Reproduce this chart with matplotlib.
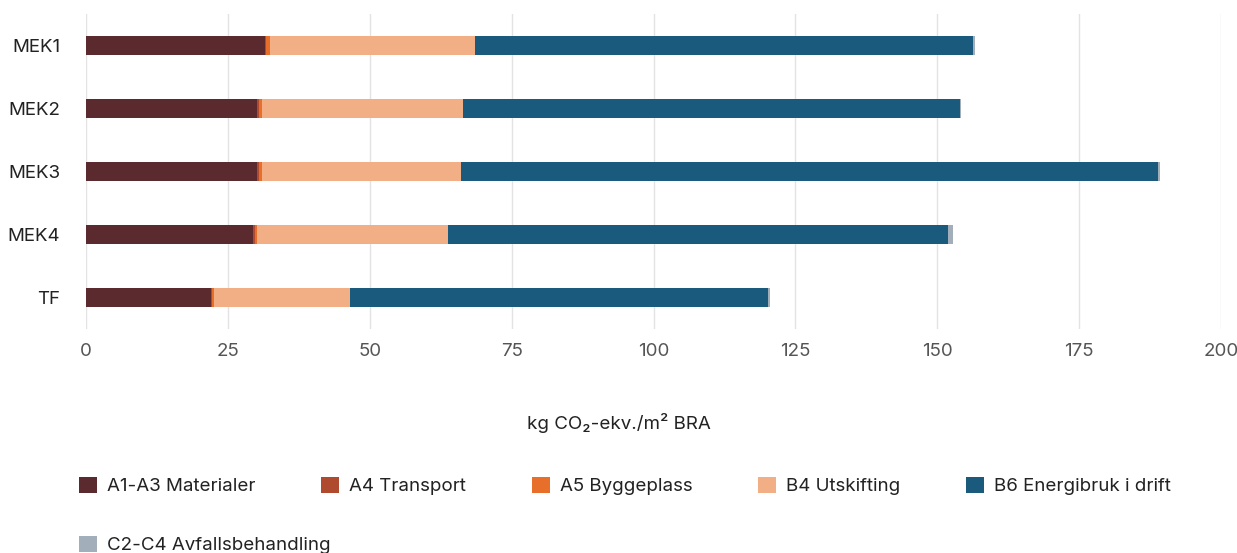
import matplotlib
matplotlib.use("Agg")
import matplotlib.pyplot as plt
import numpy as np

plt.rcParams['font.family'] = ['Inter', 'DejaVu Sans']

categories = ["MEK1", "MEK2", "MEK3", "MEK4", "TF"]
series_names = ["A1-A3 Materialer", "A4 Transport", "A5 Byggeplass",
                "B4 Utskifting", "B6 Energibruk i drift", "C2-C4 Avfallsbehandling"]
a1a3 = [31.6, 30.2, 30.2, 29.5, 22.0]
a4 = [0.2, 0.35, 0.35, 0.35, 0.2]
a5 = [0.6, 0.5, 0.4, 0.35, 0.4]
b4 = [36.2, 35.3, 35.2, 33.6, 23.9]
b6 = [87.7, 87.7, 122.8, 88.1, 73.6]
c2c4 = [0.4, 0.2, 0.3, 0.8, 0.4]
colors = ["#5a2a2e", "#b04a2e", "#e86f2a", "#f2ae85", "#1a5a7c", "#a3aebb"]
xticks = [0, 25, 50, 75, 100, 125, 150, 175, 200]

W, H = 1237, 553
FS = 13.5
fig = plt.figure(figsize=(W / 100, H / 100), dpi=100)
ax = fig.add_axes([86 / W, 1 - 329 / H, (1221 - 86) / W, (329 - 14) / H])

y = np.arange(len(categories))
left = np.zeros(len(categories))
handles = []
for vals, name, c in zip([a1a3, a4, a5, b4, b6, c2c4], series_names, colors):
    b = ax.barh(y, vals, left=left, height=0.29, color=c, label=name, zorder=3)
    handles.append(b)
    left = left + np.array(vals)

ax.set_ylim(4.5, -0.5)
ax.set_xlim(0, 200)
ax.set_xticks(xticks)
ax.set_xticklabels([str(t) for t in xticks])
ax.set_yticks(y)
ax.set_yticklabels(categories)
ax.grid(axis='x', color='#e3e3e3', linewidth=1.0, zorder=0)
ax.grid(axis='y', visible=False)
for s in ax.spines.values():
    s.set_visible(False)
ax.tick_params(axis='x', length=0, pad=10, labelsize=FS, labelcolor='#555555')
ax.tick_params(axis='y', length=0, pad=18.5, labelsize=FS, labelcolor='#222222')

fig.text(0.5, 1 - 423 / H, "kg CO₂-ekv./m² BRA", ha='center', va='center',
         fontsize=FS, color='#222222')

leg_kw = dict(frameon=False, fontsize=FS, handlelength=0.95, handleheight=0.95,
              handletextpad=0.55, borderaxespad=0, borderpad=0, labelcolor='#222222')
fig.legend(handles[:5], series_names[:5], loc='center left', ncol=5,
           bbox_to_anchor=(79 / W, 1 - 486 / H), columnspacing=3.5, **leg_kw)
fig.legend(handles[5:], series_names[5:], loc='center left', ncol=1,
           bbox_to_anchor=(79 / W, 1 - 545 / H), **leg_kw)

fig.savefig("out.png", dpi=100)
